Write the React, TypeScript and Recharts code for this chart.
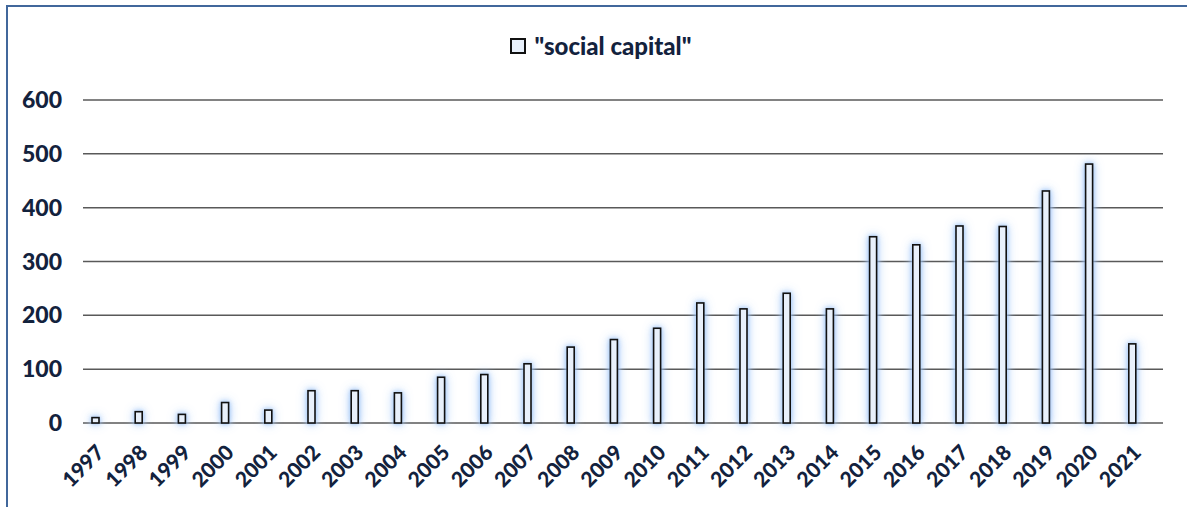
import { BarChart, Bar, XAxis, YAxis, CartesianGrid, Legend } from "recharts";

const years = [
  "1997", "1998", "1999", "2000", "2001", "2002", "2003", "2004", "2005",
  "2006", "2007", "2008", "2009", "2010", "2011", "2012", "2013", "2014",
  "2015", "2016", "2017", "2018", "2019", "2020", "2021",
];
const counts = [
  10, 21, 16, 38, 24, 60, 60, 56, 85, 90, 110, 141, 155, 176, 223, 212, 241,
  212, 346, 331, 366, 365, 431, 481, 147,
];
const yTicks = [0, 100, 200, 300, 400, 500, 600];
const seriesName = '"social capital"';

const data = years.map((year, i) => ({ year, count: counts[i] }));

const textColor = "#13223d";
const font = "Lato, 'Open Sans', sans-serif";

function GlowBar(props: any) {
  const { x, y, width, height } = props;
  if (height <= 0) return null;
  return (
    <rect
      x={x}
      y={y}
      width={width}
      height={height}
      fill="#e8f0fb"
      stroke="#111"
      strokeWidth={1.6}
      style={{
        filter:
          "drop-shadow(0 0 2px rgba(150,190,245,0.9)) drop-shadow(0 0 5px rgba(170,205,250,0.9))",
      }}
    />
  );
}

function YearTick(props: any) {
  const { x, y, payload } = props;
  return (
    <text
      x={0}
      y={0}
      transform={`translate(${x + 10},${y + 23}) rotate(-45)`}
      textAnchor="end"
      fill={textColor}
      fontFamily={font}
      fontWeight={900}
      fontSize={21}
    >
      {payload.value}
    </text>
  );
}

function TopLegend(props: any) {
  const item = props.payload?.[0];
  return (
    <div
      style={{
        display: "flex",
        justifyContent: "center",
        alignItems: "center",
        fontFamily: font,
        fontWeight: 900,
        fontSize: 24,
        color: textColor,
        lineHeight: "28px",
        paddingLeft: 14,
      }}
    >
      <span
        style={{
          display: "inline-block",
          width: 12,
          height: 12,
          border: "2px solid #111",
          background: "#e8f0fb",
          marginRight: 9,
        }}
      />
      {item ? item.value : seriesName}
    </div>
  );
}

export default function App() {
  return (
    <div style={{ position: "absolute", left: 0, top: 0, width: 1187, height: 507, background: "#fff" }}>
      <div
        style={{
          position: "absolute",
          left: 6,
          top: 5,
          width: 1181,
          height: 502,
          boxSizing: "border-box",
          borderTop: "2px solid #41679b",
          borderLeft: "2px solid #41679b",
        }}
      />
      <div style={{ position: "absolute", left: 0, top: 0 }}>
        <BarChart
          width={1187}
          height={507}
          data={data}
          margin={{ top: 100, right: 33, bottom: 0, left: 0 }}
        >
          <CartesianGrid
            vertical={false}
            stroke="#595959"
            strokeWidth={1.5}
            x={83}
            width={1080}
          />
          <XAxis
            dataKey="year"
            axisLine={false}
            tickLine={false}
            interval={0}
            tick={<YearTick />}
            height={84}
          />
          <YAxis
            width={74}
            domain={[0, 600]}
            ticks={yTicks}
            axisLine={false}
            tickLine={false}
            tickSize={0}
            tickMargin={12}
            tick={{ fill: textColor, fontFamily: font, fontWeight: 900, fontSize: 23 }}
          />
          <Legend
            verticalAlign="middle"
            layout="horizontal"
            content={<TopLegend />}
            wrapperStyle={{ top: 32, left: 0, width: 1187 }}
          />
          <Bar
            dataKey="count"
            name={seriesName}
            barSize={7}
            shape={<GlowBar />}
            isAnimationActive={false}
          />
        </BarChart>
      </div>
    </div>
  );
}
